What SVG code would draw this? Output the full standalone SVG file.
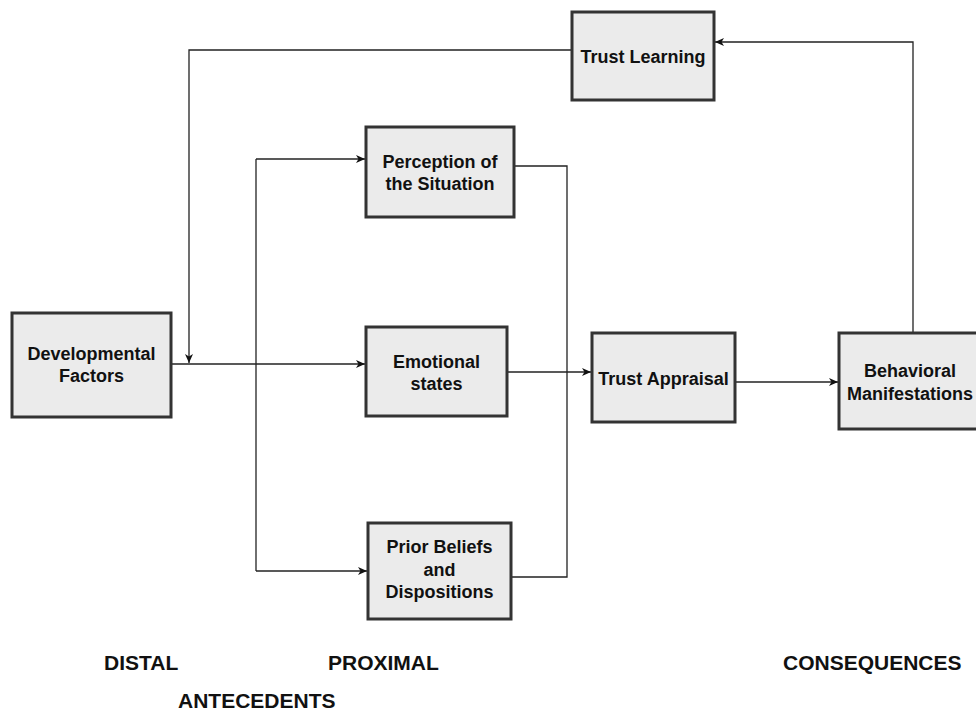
<svg xmlns="http://www.w3.org/2000/svg" width="976" height="711" viewBox="0 0 976 711">
<style>
.box{fill:#ebebeb;stroke:#333;stroke-width:3}
.lbl{font-family:"Liberation Sans",Arial,sans-serif;font-weight:bold;font-size:18px;fill:#111;text-anchor:middle}
.sec{font-family:"Liberation Sans",Arial,sans-serif;font-weight:bold;font-size:21px;fill:#111}
.con{fill:none;stroke:#222;stroke-width:1.3}
</style>
<defs>
<marker id="arr" markerWidth="11" markerHeight="11" refX="10" refY="5.5" orient="auto" markerUnits="userSpaceOnUse">
<path d="M1,1.5 L10,5.5 L1,9.5 L3.5,5.5 Z" fill="#111"/>
</marker>
</defs>
<rect width="976" height="711" fill="#fff"/>
<g id="connectors">
<path class="con" d="M572,50 H189 V363" marker-end="url(#arr)"/>
<path class="con" d="M171,364 H365" marker-end="url(#arr)"/>
<path class="con" d="M256,159 V571"/>
<path class="con" d="M256,159 H365" marker-end="url(#arr)"/>
<path class="con" d="M256,571 H367" marker-end="url(#arr)"/>
<path class="con" d="M514,166 H567 V577 H512"/>
<path class="con" d="M507,372 H591" marker-end="url(#arr)"/>
<path class="con" d="M735,382 H838" marker-end="url(#arr)"/>
<path class="con" d="M913,333 V42 H715" marker-end="url(#arr)"/>
</g>
<g id="trust-learning">
<rect class="box" x="572" y="12" width="142" height="88"/>
<text class="lbl" x="643" y="63">Trust Learning</text>
</g>
<g id="developmental-factors">
<rect class="box" x="12" y="313" width="159" height="104"/>
<text class="lbl" x="91.5" y="360">Developmental</text>
<text class="lbl" x="91.5" y="382">Factors</text>
</g>
<g id="perception">
<rect class="box" x="366" y="127" width="148" height="90"/>
<text class="lbl" x="440" y="168">Perception of</text>
<text class="lbl" x="440" y="190">the Situation</text>
</g>
<g id="emotional-states">
<rect class="box" x="366" y="327" width="141" height="89"/>
<text class="lbl" x="436.5" y="368">Emotional</text>
<text class="lbl" x="436.5" y="390">states</text>
</g>
<g id="prior-beliefs">
<rect class="box" x="368" y="523" width="143" height="96"/>
<text class="lbl" x="439.5" y="553">Prior Beliefs</text>
<text class="lbl" x="439.5" y="576">and</text>
<text class="lbl" x="439.5" y="598">Dispositions</text>
</g>
<g id="trust-appraisal">
<rect class="box" x="592" y="333" width="143" height="89"/>
<text class="lbl" x="663.5" y="385">Trust Appraisal</text>
</g>
<g id="behavioral-manifestations">
<rect class="box" x="839" y="333" width="142" height="96"/>
<text class="lbl" x="910" y="377">Behavioral</text>
<text class="lbl" x="910" y="400">Manifestations</text>
</g>
<g id="section-labels">
<text class="sec" x="104" y="670">DISTAL</text>
<text class="sec" x="328" y="670">PROXIMAL</text>
<text class="sec" x="783" y="670">CONSEQUENCES</text>
<text class="sec" x="178" y="708">ANTECEDENTS</text>
</g>
</svg>
